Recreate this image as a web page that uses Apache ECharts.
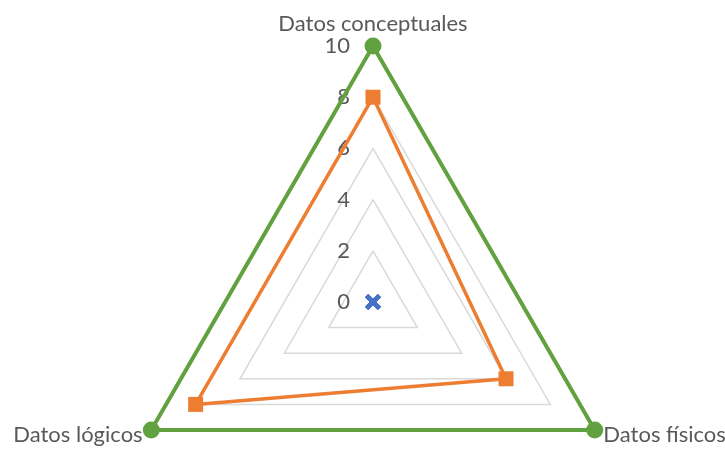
<!DOCTYPE html>
<html>
<head>
<meta charset="utf-8">
<script src="https://cdn.jsdelivr.net/npm/echarts@6/dist/echarts.min.js"></script>
<style>
html, body { margin: 0; padding: 0; background: #fff; }
#main { width: 725px; height: 450px; }
</style>
</head>
<body>
<div id="main"></div>
<script>
// indicadores en el orden de ECharts (antihorario): arriba, abajo-izq, abajo-der
var indicadores = ['Datos conceptuales', 'Datos lógicos', 'Datos físicos'];
var maximo = 10;
var serieAzul = [0, 0, 0];
var serieNaranja = [8, 8, 6];
var serieVerde = [10, 10, 10];

var cruz = 'path://M0,2 L2,0 L5,3 L8,0 L10,2 L7,5 L10,8 L8,10 L5,7 L2,10 L0,8 L3,5 Z';

var myChart = echarts.init(document.getElementById('main'));
myChart.setOption({
    animation: false,
    textStyle: { fontFamily: 'Lato' },
    radar: {
        center: [373, 302],
        radius: 256,
        shape: 'polygon',
        splitNumber: 5,
        startAngle: 90,
        axisName: { color: '#595959', fontSize: 22, fontFamily: 'Lato' },
        nameGap: 10,
        axisLine: { show: false },
        axisTick: { show: false },
        axisLabel: { show: false },
        splitArea: { show: false },
        splitLine: { lineStyle: { color: '#D9D9D9', width: 1.5 } },
        indicator: indicadores.map(function (n, i) {
            var ind = { name: n, max: maximo, min: 0 };
            if (i === 0) {
                ind.axisLabel = { show: true, color: '#595959', fontSize: 22, margin: 23, showMinLabel: true, showMaxLabel: true };
            }
            return ind;
        })
    },
    series: [{
        type: 'radar',
        data: [
            {
                value: serieAzul, name: 'Azul',
                symbol: cruz, symbolSize: 16,
                itemStyle: { color: '#4472C4' },
                lineStyle: { color: '#4472C4', width: 3 }
            },
            {
                value: serieNaranja, name: 'Naranja',
                symbol: 'rect', symbolSize: 15,
                itemStyle: { color: '#ED7D31' },
                lineStyle: { color: '#ED7D31', width: 3.5 }
            },
            {
                value: serieVerde, name: 'Verde',
                symbol: 'circle', symbolSize: 17,
                itemStyle: { color: '#62A13F' },
                lineStyle: { color: '#62A13F', width: 4 }
            }
        ]
    }]
});
</script>
</body>
</html>
